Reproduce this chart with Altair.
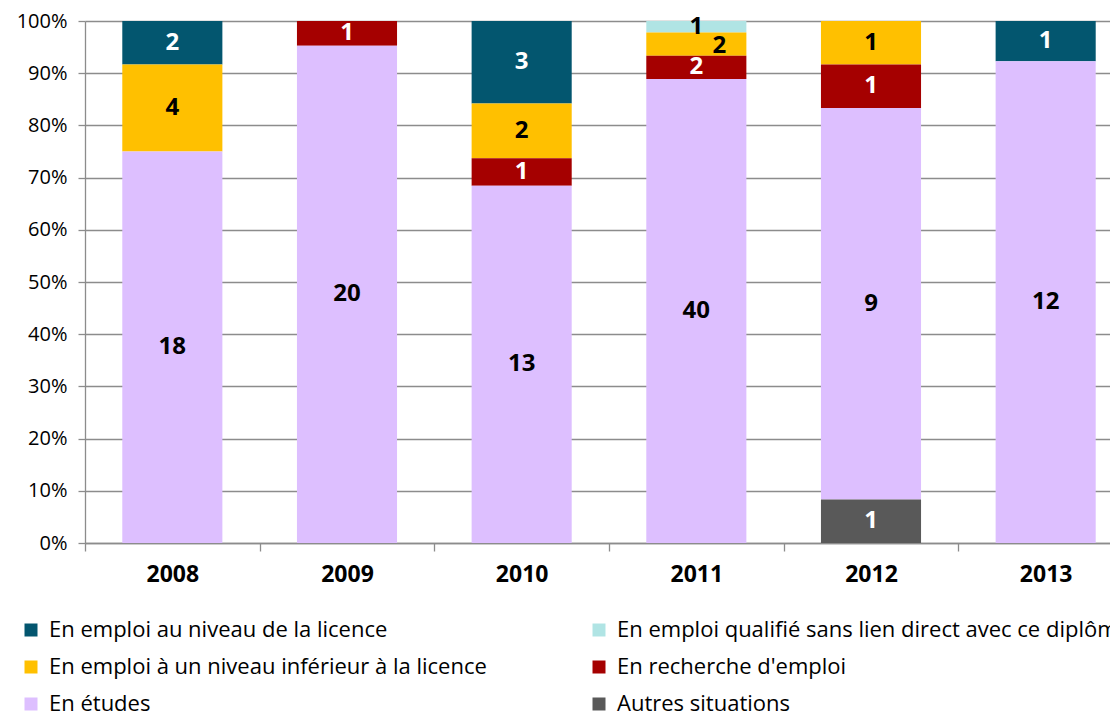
import json
import altair as alt
import pandas as pd

years = ["2008", "2009", "2010", "2011", "2012", "2013"]
series = [
    "En emploi au niveau de la licence",
    "En emploi qualifié sans lien direct avec ce diplôme",
    "En emploi à un niveau inférieur à la licence",
    "En recherche d'emploi",
    "En études",
    "Autres situations",
]
licence = [2, 0, 3, 0, 0, 1]
qualifie = [0, 0, 0, 1, 0, 0]
inferieur = [4, 0, 2, 2, 1, 0]
recherche = [0, 1, 1, 2, 1, 0]
etudes = [18, 20, 13, 40, 9, 12]
autres = [0, 0, 0, 0, 1, 0]
colors = ["#03566F", "#B0E4E4", "#FFC000", "#A50000", "#DDBFFF", "#595959"]
pct_ticks = [0, 0.1, 0.2, 0.3, 0.4, 0.5, 0.6, 0.7, 0.8, 0.9, 1.0]

values = [licence, qualifie, inferieur, recherche, etudes, autres]
rows = []
for si, (name, vals) in enumerate(zip(series, values)):
    for y, v in zip(years, vals):
        if v > 0:
            rows.append({"year": y, "series": name, "count": v, "ord": len(series) - 1 - si})
df = pd.DataFrame(rows)

# legend is filled column by column: reorder so rows read as in the reference
legend_order = [0, 2, 4, 1, 3, 5]
leg_domain = [series[i] for i in legend_order]
leg_range = [colors[i] for i in legend_order]

FONT = "Open Sans"
white_series = [series[0], series[3], series[5]]
GRAY = "#8C8C8C"

xenc = alt.X(
    "year:N",
    title=None,
    sort=years,
    scale=alt.Scale(paddingInner=0, paddingOuter=0, round=False, range=[0, 1048]),
    axis=alt.Axis(
        labelAngle=0, labelFontSize=23, labelFontWeight="bold", labelColor="black",
        tickBand="extent", tickSize=8, tickColor=GRAY, tickWidth=1.3,
        domainColor=GRAY, domainWidth=1.3, labelPadding=12, grid=False,
    ),
)

base = alt.Chart(df)

bars = base.mark_bar(width=alt.RelativeBandSize(0.573)).encode(
    x=xenc,
    y=alt.Y(
        "sum(count):Q", stack="normalize", title=None,
        scale=alt.Scale(domain=[0, 1], nice=False),
        axis=alt.Axis(
            values=pct_ticks, format=".0%", labelFontSize=20, labelColor="black",
            gridColor=GRAY, gridWidth=1.3, tickColor=GRAY, tickWidth=1.3,
            tickSize=7, domainColor=GRAY, domainWidth=1.3, labelPadding=11,
        ),
    ),
    color=alt.Color(
        "series:N",
        scale=alt.Scale(domain=leg_domain, range=leg_range),
        legend=alt.Legend(
            orient="none", legendX=-65, legendY=598, columns=2, columnPadding=101,
            rowPadding=15, symbolType="square", symbolSize=169, symbolStrokeWidth=0,
            labelFontSize=22, labelLimit=800, labelOffset=7, title=None, labelColor="black",
        ),
    ),
    order=alt.Order("ord:Q", sort="ascending"),
)

lab_base = base.transform_joinaggregate(
    total="sum(count)", groupby=["year"]
).transform_window(
    cum="sum(count)", groupby=["year"], sort=[alt.SortField("ord", order="ascending")]
).transform_calculate(
    mid="(datum.cum - datum.count / 2) / datum.total",
    tc="indexof(" + json.dumps(white_series) + ", datum.series) >= 0 ? 'white' : 'black'",
    crowded="datum.year == '2011' && datum.series == " + json.dumps(series[2]),
)

lab_enc = dict(
    x=alt.X("year:N", sort=years),
    y=alt.Y("mid:Q"),
    text="count:Q",
    color=alt.Color("tc:N", scale=None),
)

labels = lab_base.transform_filter("!datum.crowded").mark_text(
    fontSize=24, fontWeight="bold", baseline="middle"
).encode(**lab_enc)

labels_shifted = lab_base.transform_filter("datum.crowded").mark_text(
    fontSize=24, fontWeight="bold", baseline="middle", dx=23, dy=2
).encode(**lab_enc)

chart = alt.layer(bars, labels, labels_shifted).properties(
    width=1025,
    height=522,
    padding={"left": 77, "top": 13, "right": 0, "bottom": 177},
    autosize=alt.AutoSizeParams(type="none"),
).configure(font=FONT).configure_view(stroke=None)

chart.save("out.html", embed_options={"renderer": "svg", "actions": False})
